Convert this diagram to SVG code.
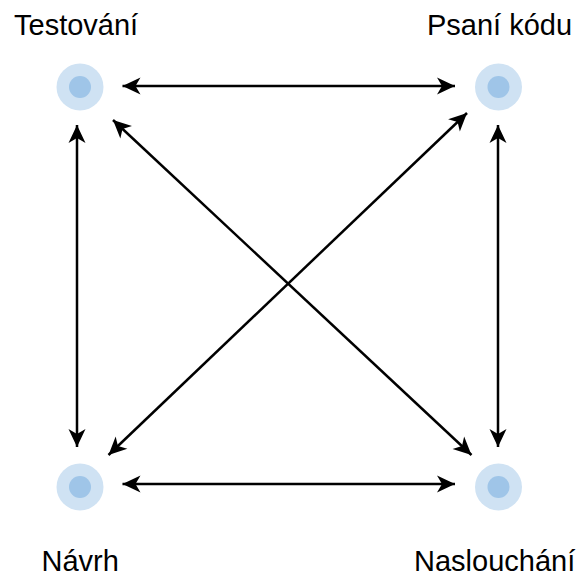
<svg xmlns="http://www.w3.org/2000/svg" width="584" height="578" viewBox="0 0 584 578">
  <style>
    .outer { fill: #cfe2f3; }
    .inner { fill: #9fc5e8; }
    .lbl { font-family: "Liberation Sans", Arial, sans-serif; font-size: 29px; fill: #000; }
    .conn { stroke: #000; stroke-width: 2.5; fill: none; marker-start: url(#arrS); marker-end: url(#arrE); }
  </style>
  <defs>
    <marker id="arrE" viewBox="-20 -9 22 18" markerWidth="22" markerHeight="18" refX="0" refY="0" orient="auto" markerUnits="userSpaceOnUse">
      <path d="M0,0 L-18,-8.5 L-13,0 L-18,8.5 Z" fill="#000"/>
    </marker>
    <marker id="arrS" viewBox="-2 -9 22 18" markerWidth="22" markerHeight="18" refX="0" refY="0" orient="auto" markerUnits="userSpaceOnUse">
      <path d="M0,0 L18,-8.5 L13,0 L18,8.5 Z" fill="#000"/>
    </marker>
  </defs>
  <g id="connectors">
    <path class="conn" d="M122.5,86 L455,86"/>
    <path class="conn" d="M122.5,484 L455,484"/>
    <path class="conn" d="M77,125 L77,447"/>
    <path class="conn" d="M498,125 L498,447"/>
    <path class="conn" d="M113,120 L471.5,455"/>
    <path class="conn" d="M467,113 L108.5,455"/>
  </g>
  <g id="node-testovani">
    <circle class="outer" cx="80" cy="87" r="23.5"/>
    <circle class="inner" cx="80" cy="87" r="11"/>
    <text class="lbl" x="14" y="35">Testování</text>
  </g>
  <g id="node-psani">
    <circle class="outer" cx="498.5" cy="87" r="23.5"/>
    <circle class="inner" cx="498.5" cy="87" r="11"/>
    <text class="lbl" x="427" y="35">Psaní kódu</text>
  </g>
  <g id="node-navrh">
    <circle class="outer" cx="80" cy="487" r="23.5"/>
    <circle class="inner" cx="80" cy="487" r="11"/>
    <text class="lbl" x="41.5" y="571">Návrh</text>
  </g>
  <g id="node-naslouchani">
    <circle class="outer" cx="498.5" cy="487" r="23.5"/>
    <circle class="inner" cx="498.5" cy="487" r="11"/>
    <text class="lbl" x="414" y="571">Naslouchání</text>
  </g>
</svg>
